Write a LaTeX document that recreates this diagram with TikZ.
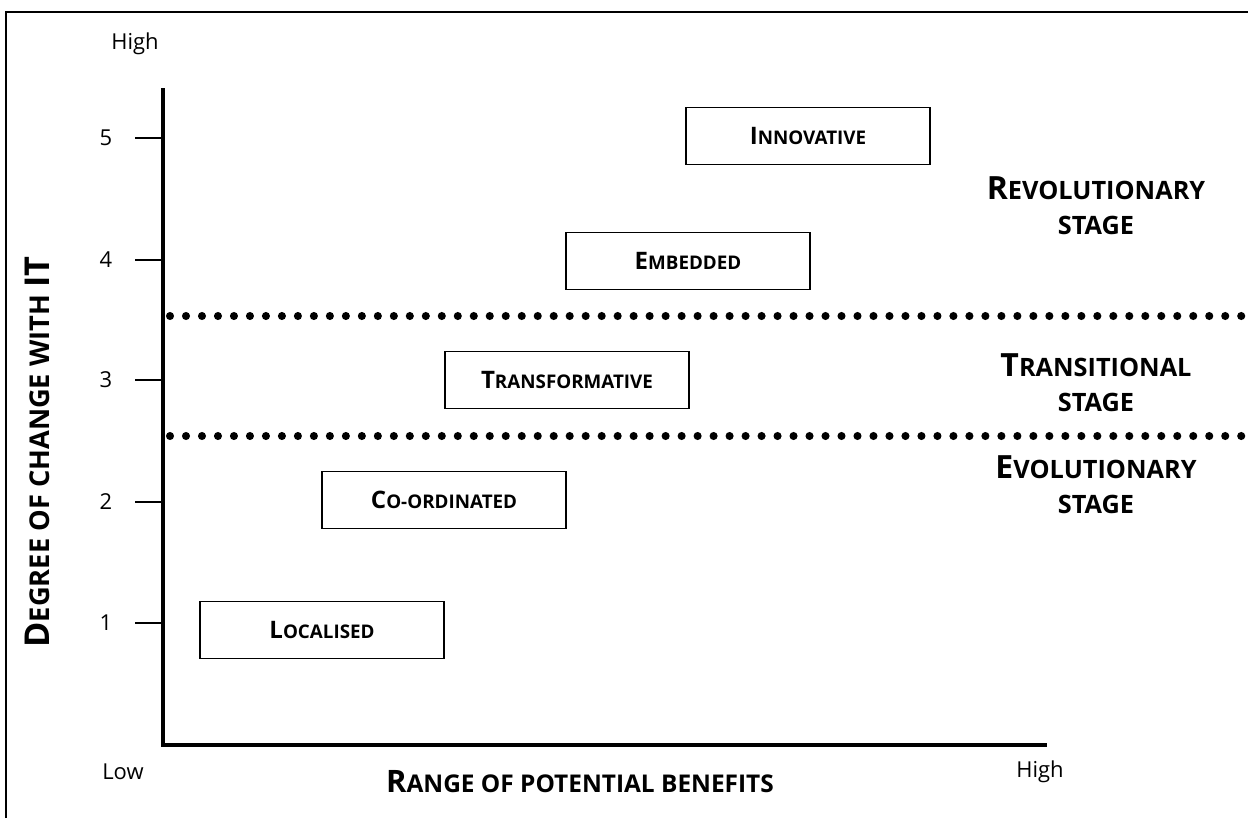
\documentclass[tikz,border=0pt]{standalone}
\usepackage{fontspec}
\setmainfont{Open Sans}
\usepackage{tikz}
\usetikzlibrary{positioning}

% fake small caps: big first letter, smaller rest
\newcommand{\bxcap}[2]{{\fontsize{13.7}{15}\selectfont #1}{\fontsize{10.7}{12}\selectfont #2}}
\newcommand{\stcap}[2]{{\fontsize{18.2}{20}\selectfont #1}{\fontsize{14.4}{16}\selectfont #2}}
\newcommand{\axcap}[2]{{\fontsize{17.6}{20}\selectfont #1}{\fontsize{13.9}{16}\selectfont #2}}
\newcommand{\aycap}[2]{{\fontsize{19.5}{22}\selectfont #1}{\fontsize{15.5}{18}\selectfont #2}}

\tikzset{
    axisline/.style={line width=2.2pt},
    tickline/.style={line width=0.8pt},
    stageline/.style={line width=4.6pt, line cap=round, dash pattern=on 0pt off 9.1pt},
    levelbox/.style={draw, line width=1.1pt, minimum width=4.88cm, minimum height=1.14cm, inner sep=0pt, font=\bfseries},
    plain/.style={font=\fontsize{12.5}{14}\selectfont},
    stagelab/.style={align=center, font=\bfseries, inner sep=0pt}
}

\begin{document}
\begin{tikzpicture}[x=0.02cm,y=-0.02cm]
        \useasboundingbox (0,0) rectangle (1248,819);
        % frame (top and left only)
        \draw[line width=1.1pt] (6,818)--(6,12)--(1248,12);
        % axes
        \coordinate (O) at (163,745);
        \coordinate (ytop) at (163,88);
        \coordinate (xend) at (1047,745);
        \draw[axisline] (ytop)--(O)--(xend);
        \foreach \v/\y in {1/623,2/502,3/380,4/260,5/138}
            {
                \coordinate (t\v) at (163,\y);
                \draw[tickline] (135,\y)--(t\v);
                \node[plain] (n\v) at (106,\y) {\v};
            }
        \node[plain] (yhigh) at (135,44) {High};
        \node[plain] (xlow) at (123,772) {Low};
        \node[plain] (xhigh) at (1040,772) {High};
        \node[font=\bfseries] (xlab) at (580,782) {\axcap{R}{ANGE OF POTENTIAL BENEFITS}};
        \node[font=\bfseries, rotate=90] (ylab) at (37,452) {\aycap{D}{EGREE OF CHANGE WITH }\aycap{IT}{}};
        % stage boundaries
        \draw[stageline] (170,316)--(1246,316);
        \draw[stageline] (170,436)--(1246,436);
        % levels
        \node[levelbox] (loc) at (322,630) {\bxcap{L}{OCALISED}};
        \node[levelbox] (coord) at (444,500) {\bxcap{C}{O-ORDINATED}};
        \node[levelbox] (trans) at (567,380) {\bxcap{T}{RANSFORMATIVE}};
        \node[levelbox] (emb) at (688,261) {\bxcap{E}{MBEDDED}};
        \node[levelbox] (inn) at (808,136) {\bxcap{I}{NNOVATIVE}};
        % stages
        \node[stagelab] (rev) at (1096,206) {\stcap{R}{EVOLUTIONARY}\\[8pt]\stcap{}{STAGE}};
        \node[stagelab] (tra) at (1096,383) {\stcap{T}{RANSITIONAL}\\[8pt]\stcap{}{STAGE}};
        \node[stagelab] (evo) at (1096,485) {\stcap{E}{VOLUTIONARY}\\[8pt]\stcap{}{STAGE}};
    \end{tikzpicture}
\end{document}
